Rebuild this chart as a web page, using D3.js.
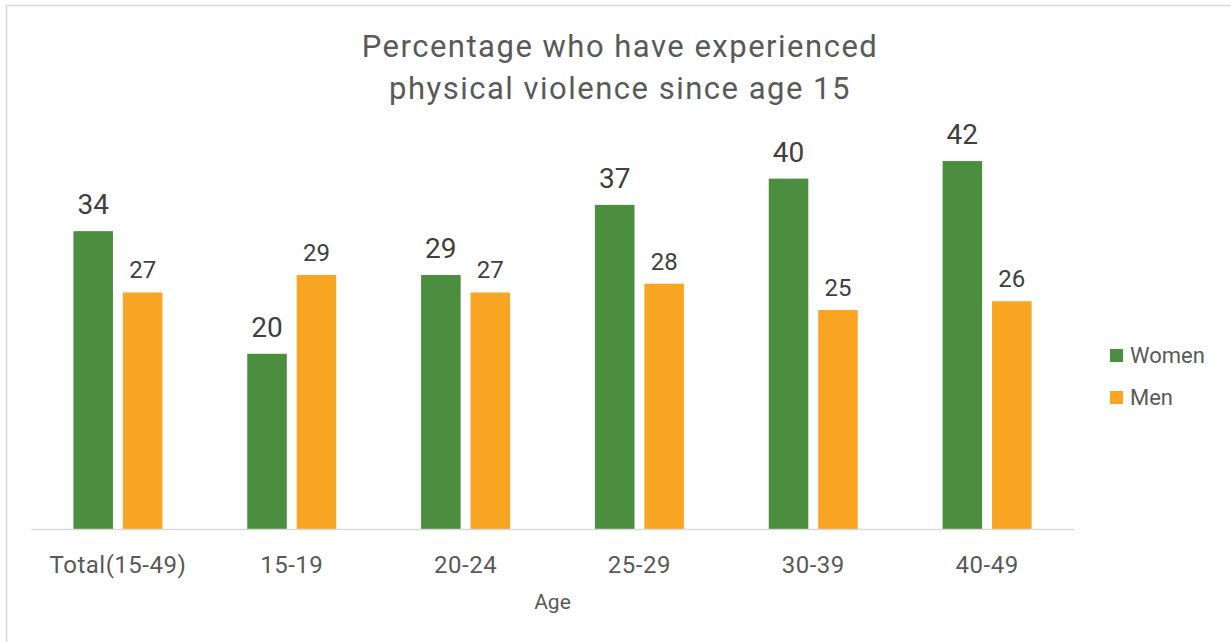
<!DOCTYPE html>
<html>
<head>
<meta charset="utf-8">
<script src="https://cdn.jsdelivr.net/npm/d3@7"></script>
<style>
  body { margin: 0; background: #fff; }
  svg text { font-family: Roboto, "Noto Sans", sans-serif; }
</style>
</head>
<body>
<svg id="graph" width="1231" height="642"></svg>
<script>
// Données du graphique
const ageGroups = ["Total(15-49)", "15-19", "20-24", "25-29", "30-39", "40-49"];
const seriesNames = ["Women", "Men"];
const women = [34, 20, 29, 37, 40, 42];
const men = [27, 29, 27, 28, 25, 26];
const titleLines = ["Percentage who have experienced", "physical violence since age 15"];
const axisTitle = "Age";

const colors = { Women: "#4b8e40", Men: "#f8a523" };

const svg = d3.select("#graph");

// Cadre du graphique
svg.append("rect")
  .attr("x", 6.5).attr("y", 5.5)
  .attr("width", 1240).attr("height", 660)
  .attr("fill", "none")
  .attr("stroke", "#d9d9d9")
  .attr("stroke-width", 1.5);

// Titre
svg.append("g").selectAll("text")
  .data(titleLines)
  .enter().append("text")
  .attr("x", 620)
  .attr("y", (d, i) => 57 + i * 42)
  .attr("text-anchor", "middle")
  .attr("fill", "#595959")
  .style("font-size", "31px")
  .style("letter-spacing", "1.5px")
  .text(d => d);

const baseY = 529;
const x0 = d3.scaleBand().domain(ageGroups).range([31, 1074]).padding(0);
const bw = x0.bandwidth();
const x1 = d3.scaleBand().domain(seriesNames).range([bw * 0.244, bw * 0.756]).paddingInner(0.2);
const y = d3.scaleLinear().domain([0, 45]).range([baseY, baseY - 45 * 8.76]);

const rows = ageGroups.map((g, i) => ({ group: g, Women: women[i], Men: men[i] }));

const groups = svg.append("g").selectAll("g")
  .data(rows)
  .enter().append("g")
  .attr("transform", d => `translate(${x0(d.group)},0)`);

const cells = groups.selectAll("g")
  .data(d => seriesNames.map(s => ({ key: s, value: d[s] })))
  .enter();

// Barres
cells.append("rect")
  .attr("x", d => x1(d.key))
  .attr("y", d => y(d.value))
  .attr("width", x1.bandwidth())
  .attr("height", d => baseY - y(d.value))
  .attr("fill", d => colors[d.key]);

// Étiquettes de valeurs (les femmes en plus gros)
cells.append("text")
  .attr("x", d => x1(d.key) + x1.bandwidth() / 2)
  .attr("y", d => y(d.value) - (d.key === "Women" ? 17 : 14))
  .attr("text-anchor", "middle")
  .attr("fill", "#404040")
  .style("font-size", d => d.key === "Women" ? "28px" : "24px")
  .text(d => d.value);

// Axe des x
const xAxis = svg.append("g")
  .attr("transform", `translate(0,${baseY})`)
  .call(d3.axisBottom(x0).tickSize(0).tickPadding(27));
xAxis.select(".domain").attr("stroke", "#d9d9d9").attr("stroke-width", 1.5);
xAxis.selectAll("text")
  .attr("fill", "#595959")
  .style("font-size", "24px")
  .style("letter-spacing", "0.5px")
  .style("font-family", "Roboto, 'Noto Sans', sans-serif");

svg.append("text")
  .attr("x", (31 + 1074) / 2)
  .attr("y", 609)
  .attr("text-anchor", "middle")
  .attr("fill", "#595959")
  .style("font-size", "21px")
  .text(axisTitle);

// Légende
const legend = svg.append("g").selectAll("g")
  .data(seriesNames)
  .enter().append("g")
  .attr("transform", (d, i) => `translate(1110,${349 + i * 42})`);
legend.append("rect")
  .attr("width", 13).attr("height", 13)
  .attr("fill", d => colors[d]);
legend.append("text")
  .attr("x", 20).attr("y", 14)
  .attr("fill", "#595959")
  .style("font-size", "22px")
  .text(d => d);
</script>
</body>
</html>
